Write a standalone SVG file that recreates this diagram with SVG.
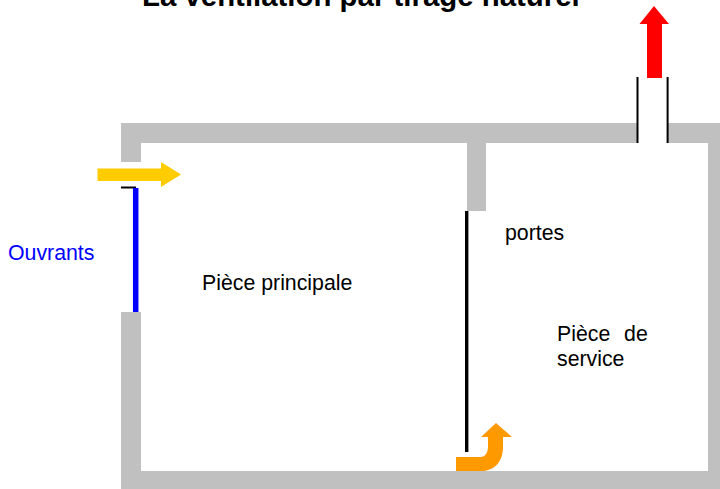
<svg xmlns="http://www.w3.org/2000/svg" width="720" height="489" viewBox="0 0 720 489">
<style>
text{font-family:"Liberation Sans",Arial,sans-serif;font-size:21.300px;fill:#000}
.wall{fill:#c0c0c0}
</style>
<rect width="720" height="489" fill="#fff"/>
<g id="walls">
<path class="wall" d="M121 123H720V489H121V312H141V471H708V143H141V162H121Z"/>
<rect class="wall" x="467" y="143" width="19" height="68"/>
<rect x="637" y="122" width="31" height="22" fill="#fff"/>
</g>
<g id="connectors">
<path d="M466.700 211V452" stroke="#000" stroke-width="3.400" fill="none"/>
<path d="M637.500 77V143M667.600 77V143" stroke="#000" stroke-width="2" fill="none"/>
<path d="M121 187.500H136" stroke="#000" stroke-width="2" fill="none"/>
<path d="M135.700 188V312" stroke="#00f" stroke-width="5.500" fill="none"/>
<path d="M97.500 168.500H161V162L181 174.500L161 187V181H97.500Z" fill="#fc0"/>
<path d="M647 78V24H639.500L654 6L669 24H662V78Z" fill="#f00"/>
<path d="M456 471V457H480C486 457 488 452 488 446V437H481L496 423L512 437H503V447C503 462 494 471 482 471Z" fill="#f90"/>
</g>
<g id="title"><text x="142" y="6" style="font-size:29.400px;font-weight:bold">La ventilation par tirage naturel</text></g>
<g id="ouvrants"><text x="8" y="260" style="fill:#00f">Ouvrants</text></g>
<g id="piece-principale"><text x="202" y="290">Pièce principale</text></g>
<g id="portes"><text x="505" y="240">portes</text></g>
<g id="piece-service"><text x="557" y="341" xml:space="preserve" style="word-spacing:1px">Pièce  de</text><text x="557" y="366">service</text></g>
</svg>
